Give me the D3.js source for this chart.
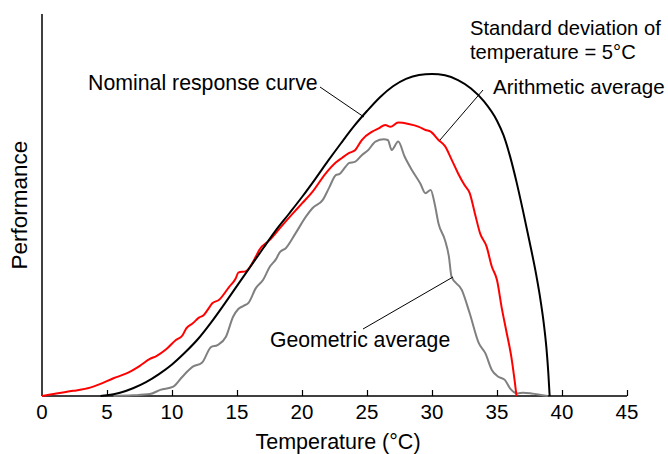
<!DOCTYPE html>
<html>
<head>
<meta charset="utf-8">
<script src="https://cdn.jsdelivr.net/npm/d3@7"></script>
<style>
  html, body { margin: 0; padding: 0; background: #fff; }
  svg text { font-family: "Liberation Sans", Arial, sans-serif; fill: #000; }
</style>
</head>
<body>
<svg id="chart" width="668" height="454"></svg>
<script>
// Temperature (°C) vs relative performance
const xTicks = [5, 10, 15, 20, 25, 30, 35, 40, 45];
const xTickLabels = ["0", "5", "10", "15", "20", "25", "30", "35", "40", "45"];
const xTickLabelValues = [0, 5, 10, 15, 20, 25, 30, 35, 40, 45];

const nominal = [
  [4.5,0],[5,0.002],[6,0.01],[7,0.024],[8,0.043],[9,0.068],[10,0.098],[11,0.135],[12,0.177],
  [13,0.228],[14,0.284],[15,0.342],[16,0.4],[17,0.458],[18,0.515],[19,0.566],[20,0.618],
  [21,0.673],[22,0.73],[23,0.785],[24,0.838],[25,0.885],[26,0.928],[27,0.962],[28,0.985],
  [29,0.997],[30,1.0],[31,0.996],[32,0.981],[33,0.955],[34,0.915],[35,0.855],[35.5,0.81],
  [36,0.745],[36.5,0.665],[37,0.575],[37.5,0.48],[38,0.38],[38.3,0.31],[38.6,0.225],
  [38.8,0.15],[38.95,0.07],[39.05,0]
];

const arithmetic = [
  [0,0],[1.1,0.008],[2.4,0.016],[3.7,0.026],[4.4,0.036],[5.5,0.055],[6.5,0.07],[7.5,0.093],
  [8.3,0.115],[8.8,0.124],[9.55,0.145],[10.3,0.174],[10.8,0.188],[11.1,0.21],[11.6,0.226],
  [12.1,0.244],[12.4,0.25],[12.9,0.277],[13.1,0.288],[13.6,0.298],[14.4,0.339],[14.9,0.365],
  [15.1,0.383],[15.7,0.388],[16.45,0.433],[16.7,0.453],[17.5,0.484],[18.4,0.526],[19.3,0.567],
  [20.0,0.598],[20.8,0.634],[21.8,0.69],[22.6,0.725],[23.1,0.74],[23.6,0.754],[24.1,0.764],
  [24.6,0.795],[25.4,0.821],[25.9,0.831],[26.4,0.842],[26.8,0.836],[27.4,0.849],[28.2,0.845],
  [29.0,0.836],[29.5,0.826],[29.9,0.821],[30.5,0.795],[31.0,0.776],[31.5,0.735],[32.0,0.692],
  [32.5,0.655],[32.9,0.63],[33.3,0.567],[33.7,0.505],[34.2,0.464],[34.6,0.402],[35.0,0.36],
  [35.35,0.277],[35.7,0.205],[36.1,0.122],[36.35,0.05],[36.5,0]
];

const geometric = [
  [5.5,0],[7,0.002],[8.3,0.006],[9.1,0.019],[10.1,0.029],[10.8,0.06],[11.6,0.091],[12.3,0.103],
  [13.0,0.152],[13.5,0.158],[14.15,0.184],[14.7,0.246],[15.1,0.27],[15.5,0.28],[15.9,0.29],
  [16.45,0.335],[17.0,0.36],[17.5,0.4],[18.0,0.425],[18.3,0.447],[18.75,0.459],[19.5,0.505],
  [20.3,0.557],[20.8,0.583],[21.6,0.609],[22.1,0.648],[22.6,0.686],[22.9,0.69],[23.35,0.712],
  [23.6,0.723],[24.1,0.728],[24.6,0.748],[25.1,0.764],[25.65,0.79],[26.3,0.797],[26.6,0.795],
  [26.9,0.764],[27.4,0.79],[27.9,0.743],[28.45,0.702],[29.1,0.66],[29.5,0.63],[29.9,0.64],
  [30.2,0.598],[30.5,0.536],[31.0,0.484],[31.3,0.433],[31.5,0.371],[32.3,0.329],[32.9,0.257],
  [33.6,0.164],[34.1,0.133],[34.6,0.081],[35.1,0.06],[35.6,0.05],[36.0,0.024],[36.6,0.008],
  [37.0,0.01],[37.65,0.008],[38.9,0]
];

const svg = d3.select("#chart");
const x = d3.scaleLinear().domain([0, 45]).range([42, 627]);
const y = d3.scaleLinear().domain([0, 1]).range([396, 74]);
const yTop = 1.186;

// axes
const xAxis = d3.axisTop(x).tickValues(xTicks).tickSize(6).tickFormat("");
const gx = svg.append("g").attr("transform", `translate(0,${y(0)})`).call(xAxis);
gx.select(".domain").attr("d", `M${x(0)},0H${x(45)}`).attr("stroke", "#000").attr("stroke-width", 1.5);
gx.selectAll(".tick line").attr("stroke", "#000").attr("stroke-width", 1.2);

svg.append("line")
  .attr("x1", x(0)).attr("x2", x(0))
  .attr("y1", y(0)).attr("y2", y(yTop))
  .attr("stroke", "#000").attr("stroke-width", 1.5);

svg.append("g").selectAll("text").data(xTickLabelValues).join("text")
  .attr("x", d => x(d)).attr("y", 419)
  .attr("text-anchor", "middle").attr("font-size", 20.5)
  .text((d, i) => xTickLabels[i]);

svg.append("text").attr("x", 338).attr("y", 449)
  .attr("text-anchor", "middle").attr("font-size", 21.5).text("Temperature (°C)");

svg.append("text").attr("transform", `translate(27,${(y(0) + y(yTop)) / 2}) rotate(-90)`)
  .attr("text-anchor", "middle").attr("font-size", 22.5).text("Performance");

// curves
const line = d3.line().x(d => x(d[0])).y(d => y(d[1])).curve(d3.curveMonotoneX);
svg.append("path").datum(geometric).attr("d", line)
  .attr("fill", "none").attr("stroke", "#808080").attr("stroke-width", 2);
svg.append("path").datum(arithmetic).attr("d", line)
  .attr("fill", "none").attr("stroke", "#ff0000").attr("stroke-width", 2);
svg.append("path").datum(nominal).attr("d", line)
  .attr("fill", "none").attr("stroke", "#000").attr("stroke-width", 2);

// annotations
function leader(x1, y1, x2, y2) {
  svg.append("line").attr("x1", x1).attr("y1", y1).attr("x2", x2).attr("y2", y2)
    .attr("stroke", "#000").attr("stroke-width", 1);
}
svg.append("text").attr("x", 88).attr("y", 90).attr("font-size", 21.3).text("Nominal response curve");
leader(320, 87, 364, 117);
svg.append("text").attr("x", 493).attr("y", 94).attr("font-size", 20.6).text("Arithmetic average");
leader(483, 90, 440, 140);
svg.append("text").attr("x", 270).attr("y", 347).attr("font-size", 21.2).text("Geometric average");
leader(363, 329, 453, 277);
svg.append("text").attr("x", 470).attr("y", 35).attr("font-size", 20.2).text("Standard deviation of");
svg.append("text").attr("x", 470).attr("y", 59).attr("font-size", 20.2).text("temperature = 5°C");
</script>
</body>
</html>
